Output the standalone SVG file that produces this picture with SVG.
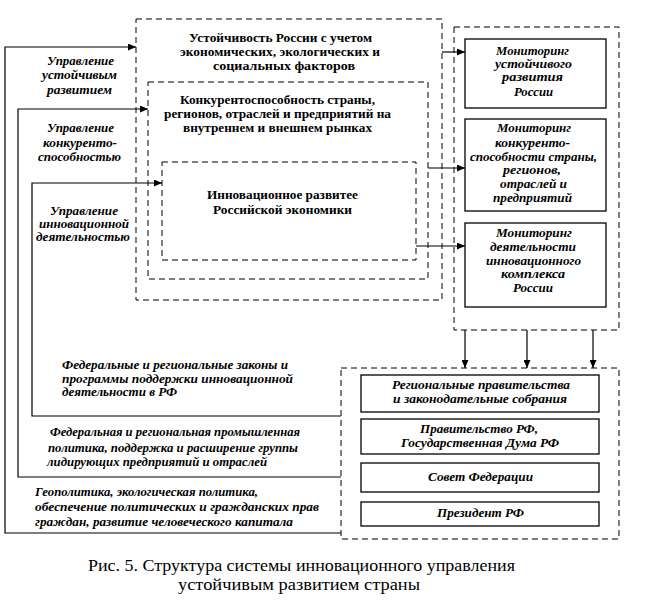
<svg xmlns="http://www.w3.org/2000/svg" width="651" height="613" viewBox="0 0 651 613">
<style>
.dash{fill:none;stroke:#000;stroke-width:1;stroke-dasharray:6,4}
.box{fill:#fff;stroke:#000;stroke-width:1.3}
.ln{fill:none;stroke:#000;stroke-width:1.2}
.b{font-family:"Liberation Serif","DejaVu Serif",serif;font-weight:bold;font-size:12.5px;fill:#000}
.bi{font-family:"Liberation Serif","DejaVu Serif",serif;font-weight:bold;font-style:italic;font-size:12.5px;fill:#000}
.cap{font-family:"Liberation Serif","DejaVu Serif",serif;font-size:16px;fill:#000}
</style>
<defs>
<marker id="ah" markerUnits="userSpaceOnUse" markerWidth="9" markerHeight="7" refX="8" refY="3.5" orient="auto">
<path d="M0,0 L8,3.5 L0,7 z" fill="#000"/>
</marker>
</defs>
<rect width="651" height="613" fill="#fff"/>

<g id="sustainability">
<rect class="dash" x="136" y="19" width="306" height="281"/>
<text class="b" x="189" y="42" textLength="183" lengthAdjust="spacingAndGlyphs">Устойчивость России с учетом</text>
<text class="b" x="180" y="56" textLength="200" lengthAdjust="spacingAndGlyphs">экономических, экологических и</text>
<text class="b" x="213" y="70" textLength="142" lengthAdjust="spacingAndGlyphs">социальных факторов</text>
</g>

<g id="competitiveness">
<rect class="dash" x="148" y="82" width="280" height="197"/>
<text class="b" x="180" y="104" textLength="195" lengthAdjust="spacingAndGlyphs">Конкурентоспособность страны,</text>
<text class="b" x="164" y="118" textLength="227" lengthAdjust="spacingAndGlyphs">регионов, отраслей и предприятий на</text>
<text class="b" x="183" y="132" textLength="189" lengthAdjust="spacingAndGlyphs">внутреннем и внешнем рынках</text>
</g>

<g id="innovation">
<rect class="dash" x="162" y="162" width="254" height="98"/>
<text class="b" x="207" y="199" textLength="151" lengthAdjust="spacingAndGlyphs">Инновационное развитее</text>
<text class="b" x="213" y="214" textLength="139" lengthAdjust="spacingAndGlyphs">Российской экономики</text>
</g>

<g id="monitoring">
<rect class="dash" x="454" y="27" width="165" height="303"/>
</g>

<g id="mon-sustain">
<rect class="box" x="465" y="39" width="141" height="69"/>
<text class="bi" x="496" y="55" textLength="73" lengthAdjust="spacingAndGlyphs">Мониторинг</text>
<text class="bi" x="495" y="68" textLength="77" lengthAdjust="spacingAndGlyphs">устойчивого</text>
<text class="bi" x="502" y="81" textLength="61" lengthAdjust="spacingAndGlyphs">развития</text>
<text class="bi" x="514" y="96" textLength="39" lengthAdjust="spacingAndGlyphs">России</text>
</g>

<g id="mon-compet">
<rect class="box" x="465" y="119" width="141" height="92"/>
<text class="bi" x="497" y="132" textLength="74" lengthAdjust="spacingAndGlyphs">Мониторинг</text>
<text class="bi" x="495" y="147" textLength="75" lengthAdjust="spacingAndGlyphs">конкуренто-</text>
<text class="bi" x="470" y="161" textLength="127" lengthAdjust="spacingAndGlyphs">способности страны,</text>
<text class="bi" x="503" y="174" textLength="58" lengthAdjust="spacingAndGlyphs">регионов,</text>
<text class="bi" x="500" y="188" textLength="67" lengthAdjust="spacingAndGlyphs">отраслей и</text>
<text class="bi" x="493" y="202" textLength="79" lengthAdjust="spacingAndGlyphs">предприятий</text>
</g>

<g id="mon-innov">
<rect class="box" x="465" y="223" width="141" height="84"/>
<text class="bi" x="496" y="237" textLength="76" lengthAdjust="spacingAndGlyphs">Мониторинг</text>
<text class="bi" x="490" y="251" textLength="86" lengthAdjust="spacingAndGlyphs">деятельности</text>
<text class="bi" x="486" y="265" textLength="95" lengthAdjust="spacingAndGlyphs">инновационного</text>
<text class="bi" x="501" y="278" textLength="64" lengthAdjust="spacingAndGlyphs">комплекса</text>
<text class="bi" x="513" y="292" textLength="40" lengthAdjust="spacingAndGlyphs">России</text>
</g>

<g id="authorities">
<rect class="dash" x="341" y="368" width="278" height="171"/>
</g>

<g id="regional-gov">
<rect class="box" x="361" y="375" width="238" height="37"/>
<text class="bi" x="392" y="389" textLength="178" lengthAdjust="spacingAndGlyphs">Региональные правительства</text>
<text class="bi" x="393" y="403" textLength="174" lengthAdjust="spacingAndGlyphs">и законодательные собрания</text>
</g>

<g id="government">
<rect class="box" x="361" y="419" width="238" height="35"/>
<text class="bi" x="420" y="433" textLength="118" lengthAdjust="spacingAndGlyphs">Правительство РФ,</text>
<text class="bi" x="401" y="447" textLength="158" lengthAdjust="spacingAndGlyphs">Государственная Дума РФ</text>
</g>

<g id="federation-council">
<rect class="box" x="361" y="463" width="238" height="29"/>
<text class="bi" x="428" y="481" textLength="105" lengthAdjust="spacingAndGlyphs">Совет Федерации</text>
</g>

<g id="president">
<rect class="box" x="361" y="502" width="238" height="24"/>
<text class="bi" x="437" y="517" textLength="87" lengthAdjust="spacingAndGlyphs">Президент РФ</text>
</g>

<g id="connectors">
<polyline class="ln" points="341,533 5,533 5,47 136,47" marker-end="url(#ah)"/>
<polyline class="ln" points="341,477 18,477 18,109 148,109" marker-end="url(#ah)"/>
<polyline class="ln" points="341,416 32,416 32,183 162,183" marker-end="url(#ah)"/>
<line class="ln" x1="442" y1="52" x2="465" y2="52" marker-end="url(#ah)"/>
<line class="ln" x1="428" y1="168" x2="465" y2="168" marker-end="url(#ah)"/>
<line class="ln" x1="416" y1="246" x2="465" y2="246" marker-end="url(#ah)"/>
<line class="ln" x1="465" y1="330" x2="465" y2="368" marker-end="url(#ah)"/>
<line class="ln" x1="527" y1="330" x2="527" y2="368" marker-end="url(#ah)"/>
<line class="ln" x1="593" y1="330" x2="593" y2="368" marker-end="url(#ah)"/>
</g>

<g id="labels">
<text class="bi" x="47" y="65" textLength="67" lengthAdjust="spacingAndGlyphs">Управление</text>
<text class="bi" x="42" y="79" textLength="75" lengthAdjust="spacingAndGlyphs">устойчивым</text>
<text class="bi" x="47" y="94" textLength="65" lengthAdjust="spacingAndGlyphs">развитием</text>
<text class="bi" x="47" y="132" textLength="67" lengthAdjust="spacingAndGlyphs">Управление</text>
<text class="bi" x="43" y="147" textLength="74" lengthAdjust="spacingAndGlyphs">конкуренто-</text>
<text class="bi" x="38" y="161" textLength="83" lengthAdjust="spacingAndGlyphs">способностью</text>
<text class="bi" x="50" y="215" textLength="68" lengthAdjust="spacingAndGlyphs">Управление</text>
<text class="bi" x="39" y="228" textLength="90" lengthAdjust="spacingAndGlyphs">инновационной</text>
<text class="bi" x="36" y="241" textLength="94" lengthAdjust="spacingAndGlyphs">деятельностью</text>

<text class="bi" x="62" y="369" textLength="226" lengthAdjust="spacingAndGlyphs">Федеральные и региональные законы и</text>
<text class="bi" x="62" y="383" textLength="231" lengthAdjust="spacingAndGlyphs">программы поддержки  инновационной</text>
<text class="bi" x="62" y="396" textLength="115" lengthAdjust="spacingAndGlyphs">деятельности в РФ</text>
<text class="bi" x="50" y="436" textLength="250" lengthAdjust="spacingAndGlyphs">Федеральная и региональная промышленная</text>
<text class="bi" x="48" y="452" textLength="250" lengthAdjust="spacingAndGlyphs">политика, поддержка и расширение группы</text>
<text class="bi" x="47" y="466" textLength="220" lengthAdjust="spacingAndGlyphs">лидирующих предприятий и отраслей</text>
<text class="bi" x="35" y="496" textLength="223" lengthAdjust="spacingAndGlyphs">Геополитика, экологическая политика,</text>
<text class="bi" x="35" y="511" textLength="284" lengthAdjust="spacingAndGlyphs">обеспечение политических и гражданских прав</text>
<text class="bi" x="35" y="526" textLength="258" lengthAdjust="spacingAndGlyphs">граждан, развитие человеческого капитала</text>
</g>

<g id="caption">
<text class="cap" x="88" y="571" textLength="427" lengthAdjust="spacingAndGlyphs">Рис. 5. Структура системы инновационного управления</text>
<text class="cap" x="178" y="590" textLength="242" lengthAdjust="spacingAndGlyphs">устойчивым развитием страны</text>
</g>
</svg>
